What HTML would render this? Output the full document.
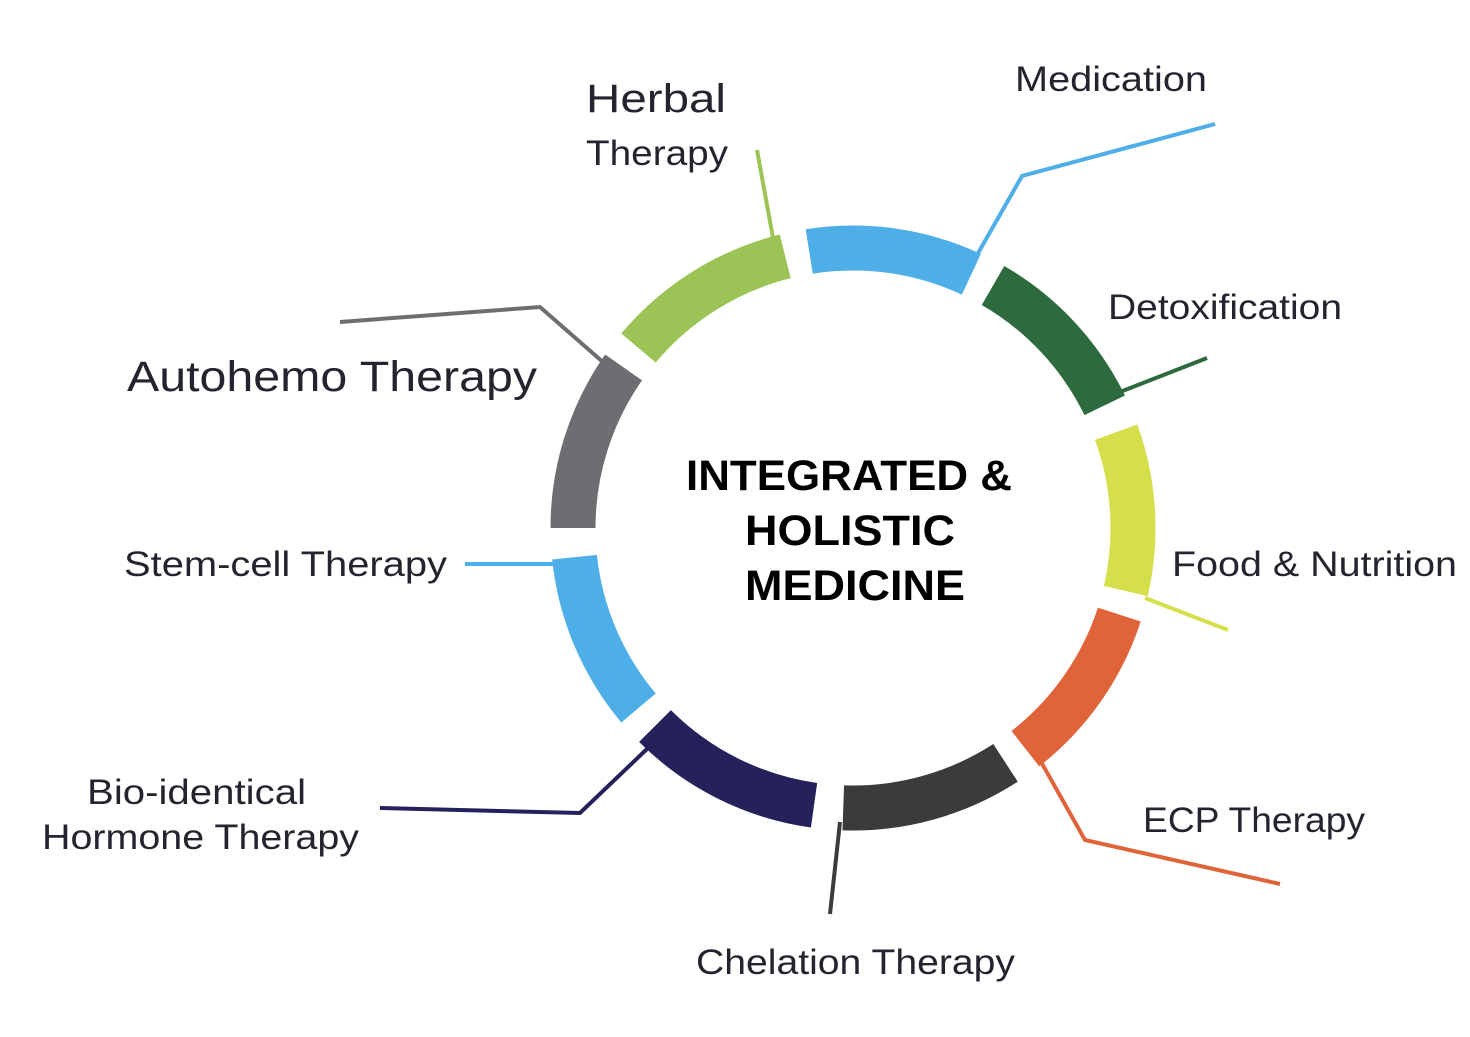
<!DOCTYPE html>
<html><head><meta charset="utf-8"><style>
html,body{margin:0;padding:0;background:#fff;}
svg{display:block;}
text{font-family:"Liberation Sans",sans-serif;fill:#24242e;}
</style></head><body>
<svg width="1470" height="1037" viewBox="0 0 1470 1037">
<g fill="none" stroke-width="45">
<circle cx="853" cy="528" r="280" stroke="#4eaee7" stroke-dasharray="166.2 2000" transform="rotate(-99 853 528)"/>
<circle cx="853" cy="528" r="280" stroke="#2d6a3e" stroke-dasharray="166.2 2000" transform="rotate(-60 853 528)"/>
<circle cx="853" cy="528" r="280" stroke="#d5de4b" stroke-dasharray="161.3 2000" transform="rotate(-20 853 528)"/>
<circle cx="853" cy="528" r="280" stroke="#e0643a" stroke-dasharray="166.2 2000" transform="rotate(18 853 528)"/>
<circle cx="853" cy="528" r="280" stroke="#3b3b3d" stroke-dasharray="171 2000" transform="rotate(57 853 528)"/>
<circle cx="853" cy="528" r="280" stroke="#25215b" stroke-dasharray="180.8 2000" transform="rotate(98 853 528)"/>
<circle cx="853" cy="528" r="280" stroke="#4eaee7" stroke-dasharray="166.2 2000" transform="rotate(140 853 528)"/>
<circle cx="853" cy="528" r="280" stroke="#6d6e71" stroke-dasharray="171 2000" transform="rotate(180 853 528)"/>
<circle cx="853" cy="528" r="280" stroke="#9bc355" stroke-dasharray="175.9 2000" transform="rotate(220 853 528)"/>
</g>
<g fill="none" stroke-width="4">
<polyline points="757,150 773,238 778,262" stroke="#9bc355"/>
<polyline points="1215,124 1022,176 977,255" stroke="#4eaee7"/>
<polyline points="1207,358 1120,392" stroke="#2d6a3e"/>
<polyline points="1145,598 1228,630" stroke="#d5de4b"/>
<polyline points="1280,884 1085,840 1040,760" stroke="#e0643a"/>
<polyline points="830,914 840,822" stroke="#3b3b3d"/>
<polyline points="380,808 580,813 648,748" stroke="#25215b"/>
<polyline points="465,564 557,564" stroke="#4eaee7"/>
<polyline points="340,322 540,307 612,370" stroke="#6d6e71"/>
</g>
<text x="586" y="112" font-size="40" textLength="140" lengthAdjust="spacingAndGlyphs">Herbal</text>
<text x="586" y="165" font-size="35" textLength="142" lengthAdjust="spacingAndGlyphs">Therapy</text>
<text x="1015" y="91" font-size="35" textLength="192" lengthAdjust="spacingAndGlyphs">Medication</text>
<text x="1108" y="319" font-size="35" textLength="234" lengthAdjust="spacingAndGlyphs">Detoxification</text>
<text x="1172" y="576" font-size="35" textLength="285" lengthAdjust="spacingAndGlyphs">Food &amp; Nutrition</text>
<text x="1143" y="832" font-size="35" textLength="222" lengthAdjust="spacingAndGlyphs">ECP Therapy</text>
<text x="696" y="974" font-size="35" textLength="319" lengthAdjust="spacingAndGlyphs">Chelation Therapy</text>
<text x="87" y="804" font-size="35" textLength="219" lengthAdjust="spacingAndGlyphs">Bio-identical</text>
<text x="42" y="849" font-size="35" textLength="317" lengthAdjust="spacingAndGlyphs">Hormone Therapy</text>
<text x="124" y="576" font-size="35" textLength="323" lengthAdjust="spacingAndGlyphs">Stem-cell Therapy</text>
<text x="127" y="391" font-size="43" textLength="410" lengthAdjust="spacingAndGlyphs">Autohemo Therapy</text>
<g font-weight="bold" font-size="43">
<text x="686" y="490" textLength="326" lengthAdjust="spacingAndGlyphs" style="fill:#000">INTEGRATED &amp;</text>
<text x="745" y="545" textLength="210" lengthAdjust="spacingAndGlyphs" style="fill:#000">HOLISTIC</text>
<text x="745" y="600" textLength="220" lengthAdjust="spacingAndGlyphs" style="fill:#000">MEDICINE</text>
</g>
</svg>
</body></html>
